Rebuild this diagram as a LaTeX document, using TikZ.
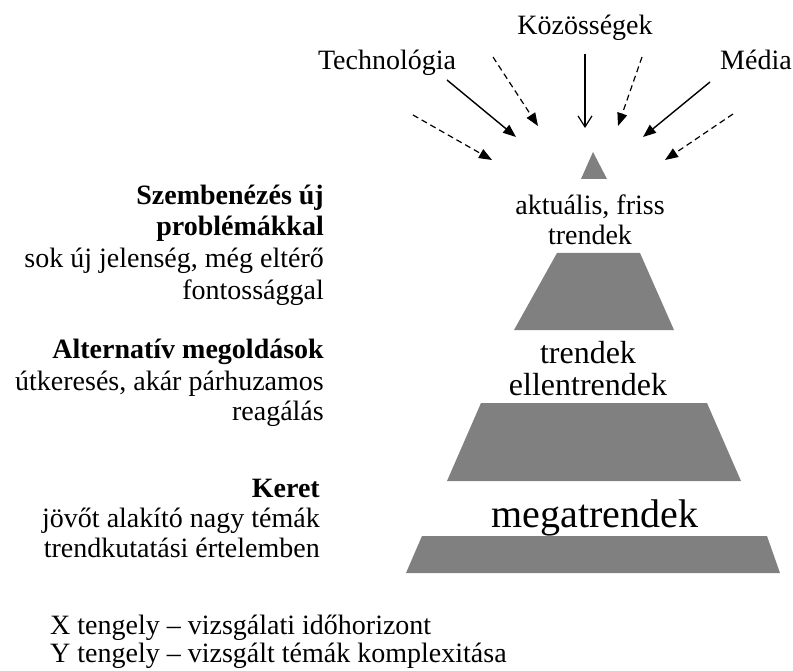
\documentclass[tikz,border=0pt]{standalone}
\usepackage{fontspec}
\setmainfont{Liberation Serif}
\usetikzlibrary{arrows.meta}
\definecolor{pyrgray}{HTML}{808080}
\begin{document}
\begin{tikzpicture}[x=1pt,y=-1pt,
  txt/.style={inner sep=0pt,font=\fontsize{28}{30}\selectfont},
  btxt/.style={inner sep=0pt,font=\fontsize{28}{30}\selectfont\bfseries},
  layer/.style={fill=pyrgray,draw=none},
  solidarr/.style={line width=1.4pt,-{Triangle[length=13pt,width=10pt]}},
  dasharr/.style={line width=1.2pt,dash pattern=on 6pt off 4pt,-{Triangle[length=13pt,width=10pt]}},
  openarr/.style={line width=1.2pt,-{Straight Barb[length=11pt,width=14pt,line width=1.2pt]}}]
\useasboundingbox (0,0) rectangle (793,671);

% pyramid layers
\fill[layer] (581,179) -- (593,152) -- (607,179) -- cycle;
\fill[layer] (557,253) -- (640,253) -- (674,330) -- (514,330) -- cycle;
\fill[layer] (481,403) -- (707,403) -- (741,481) -- (447,481) -- cycle;
\fill[layer] (422,536) -- (767,536) -- (780,573) -- (406,573) -- cycle;

% pyramid labels
\node[txt,anchor=base] (akt) at (590,215) {aktuális, friss};
\node[txt,anchor=base] (tr1) at (590,245) {trendek};
\node[txt,anchor=base,font=\fontsize{32}{34}\selectfont] (tr2) at (588,363) {trendek};
\node[txt,anchor=base,font=\fontsize{32}{34}\selectfont] (ellen) at (588,395) {ellentrendek};
\node[txt,anchor=base,font=\fontsize{40}{42}\selectfont] (mega) at (595,527) {megatrendek};

% top labels
\node[txt,anchor=base] (tech) at (387,70) {Technológia};
\node[txt,anchor=base] (koz) at (585,35) {Közösségek};
\node[txt,anchor=base] (media) at (756,70) {Média};

% arrow end points
\coordinate (t1s) at (447,80);  \coordinate (t1e) at (516,137);
\coordinate (d1s) at (493,57);  \coordinate (d1e) at (538,126);
\coordinate (d2s) at (413,115); \coordinate (d2e) at (492,160);
\coordinate (ks)  at (585,54);  \coordinate (ke)  at (585,128);
\coordinate (d3s) at (642,57);  \coordinate (d3e) at (618,126);
\coordinate (m1s) at (710,82);  \coordinate (m1e) at (643,137);
\coordinate (d4s) at (733,114); \coordinate (d4e) at (665,160);

\draw[solidarr] (t1s) -- (t1e);
\draw[dasharr] (d1s) -- (d1e);
\draw[dasharr] (d2s) -- (d2e);
\draw[openarr] (ks) -- (ke);
\draw[dasharr] (d3s) -- (d3e);
\draw[solidarr] (m1s) -- (m1e);
\draw[dasharr] (d4s) -- (d4e);

% left descriptions
\node[btxt,anchor=base east] (a1) at (324,205) {Szembenézés új};
\node[btxt,anchor=base east] (a2) at (324,236) {problémákkal};
\node[txt,anchor=base east] (a3) at (324,268) {sok új jelenség, még eltérő};
\node[txt,anchor=base east] (a4) at (324,300) {fontossággal};

\node[btxt,anchor=base east] (b1) at (324,358) {Alternatív megoldások};
\node[txt,anchor=base east] (b2) at (324,390) {útkeresés, akár párhuzamos};
\node[txt,anchor=base east] (b3) at (324,420) {reagálás};

\node[btxt,anchor=base east] (c1) at (320,497) {Keret};
\node[txt,anchor=base east] (c2) at (320,527) {jövőt alakító nagy témák};
\node[txt,anchor=base east] (c3) at (320,557) {trendkutatási értelemben};

% bottom notes
\node[txt,anchor=base west] (xt) at (50,634) {X tengely – vizsgálati időhorizont};
\node[txt,anchor=base west] (yt) at (50,662) {Y tengely – vizsgált témák komplexitása};
\end{tikzpicture}
\end{document}
